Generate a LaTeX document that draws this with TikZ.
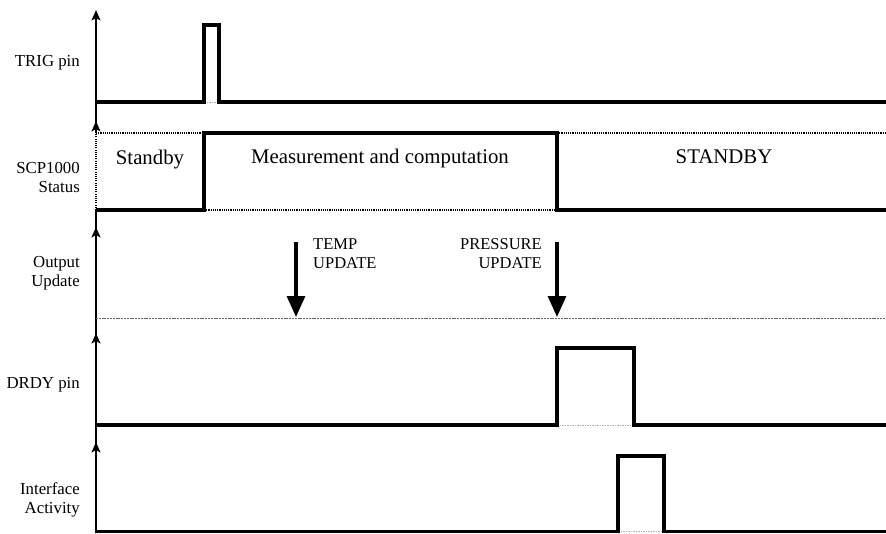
\documentclass[tikz,border=0pt]{standalone}
\usepackage{fontspec}
\setmainfont{Liberation Serif}
\usetikzlibrary{arrows.meta}
\begin{document}
\begin{tikzpicture}[x=1pt,y=-1pt,
  sig/.style={line width=3.2pt,line join=miter},
  axisline/.style={line width=1.4pt},
  axistip/.style={line width=1.4pt,-{Stealth[length=10.5pt,width=9pt,inset=2.5pt]}},
  dotline/.style={line width=1.3pt,dash pattern=on 1.1pt off 1.1pt},
  faint/.style={line width=0.8pt,gray!60,dash pattern=on 1.5pt off 1pt},
  baseln/.style={line width=0.9pt,gray!80!black,dash pattern=on 2pt off 0.8pt},
  evarrow/.style={line width=3.2pt,-{Triangle[length=21pt,width=18pt]}},
  lbl/.style={font=\fontsize{16.8}{19.5}\selectfont,inner sep=0pt,align=right},
  stat/.style={font=\fontsize{20.8}{24}\selectfont,inner sep=0pt},
  evl/.style={font=\fontsize{16.5}{19}\selectfont,inner sep=0pt}]
\useasboundingbox (0,0) rectangle (886,533);
% axes
\draw[axisline] (96,533) -- (96,210);
\draw[dotline] (96,210) -- (96,133);
\draw[axisline] (96,133) -- (96,18);
\draw[axistip] (96,22) -- (96,10);
\draw[axistip] (96,133) -- (96,121);
\draw[axistip] (96,239) -- (96,227);
\draw[axistip] (96,345) -- (96,333);
\draw[axistip] (96,454) -- (96,442);
% TRIG pin
\draw[faint] (204,102) -- (219,102);
\draw[sig] (96,102) -- (204,102) -- (204,25) -- (219,25) -- (219,102) -- (886,102);
% SCP1000 status
\draw[dotline] (96,133) -- (204,133);
\draw[dotline] (557,133) -- (886,133);
\draw[dotline] (204,210) -- (557,210);
\draw[sig] (96,210) -- (204,210) -- (204,133) -- (557,133) -- (557,210) -- (886,210);
\node[stat,anchor=base] (sb) at (150,164) {Standby};
\node[stat,anchor=base] (mc) at (380,163.5) {Measurement and computation};
\node[stat,anchor=base] (SB) at (724,163.5) {STANDBY};
% output update
\draw[baseln] (96,318) -- (886,318);
\coordinate (t0) at (296,242);
\coordinate (t1) at (296,317);
\coordinate (p0) at (557,242);
\coordinate (p1) at (557,317);
\draw[evarrow] (t0) -- (t1);
\draw[evarrow] (p0) -- (p1);
\node[evl,anchor=north west,align=left] (tu) at (313,238) {TEMP\\UPDATE};
\node[evl,anchor=north east,align=right] (pu) at (542,238) {PRESSURE\\UPDATE};
% DRDY
\draw[faint] (557,425) -- (634,425);
\draw[sig] (96,425) -- (557,425) -- (557,348) -- (634,348) -- (634,425) -- (886,425);
% interface
\draw[faint] (618,531.5) -- (664,531.5);
\draw[sig] (96,531.5) -- (618,531.5) -- (618,456) -- (664,456) -- (664,531.5) -- (886,531.5);
% labels
\node[lbl,anchor=base east] (l1) at (80,66) {TRIG pin};
\node[lbl,anchor=north east] (l2) at (80,162) {SCP1000\\Status};
\node[lbl,anchor=north east] (l3) at (80,256) {Output\\Update};
\node[lbl,anchor=base east] (l4) at (80,388) {DRDY pin};
\node[lbl,anchor=north east] (l5) at (80,482) {Interface\\Activity};
\end{tikzpicture}
\end{document}
